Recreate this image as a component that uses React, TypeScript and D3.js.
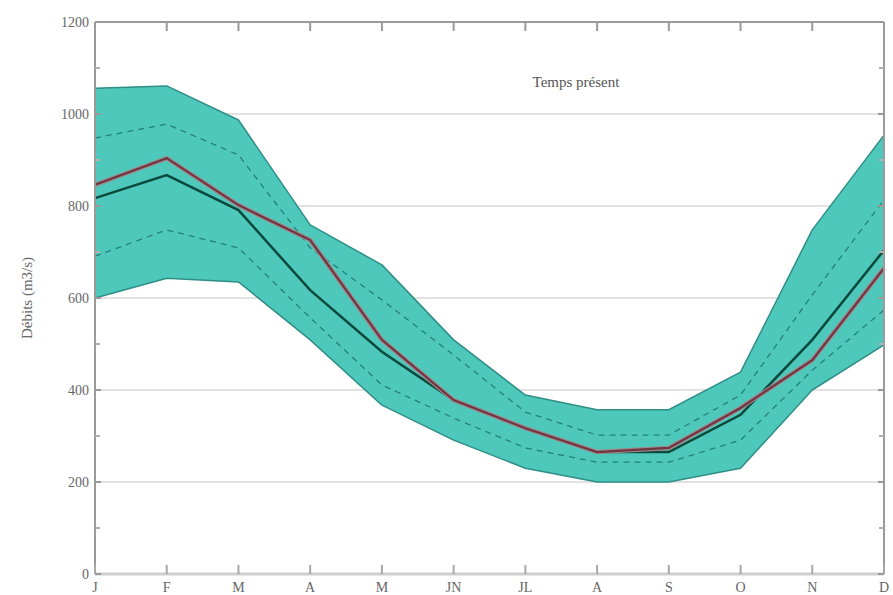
import React from 'react';
import * as d3 from 'd3';

const months = ['J', 'F', 'M', 'A', 'M', 'JN', 'JL', 'A', 'S', 'O', 'N', 'D'];
const bandUpper = [1056, 1061, 987, 759, 672, 509, 389, 357, 357, 439, 748, 954];
const bandLower = [600, 643, 635, 509, 367, 291, 230, 200, 200, 230, 400, 498];
const dashUpper = [948, 978, 911, 709, 596, 476, 352, 302, 302, 389, 607, 813];
const dashLower = [691, 748, 709, 557, 411, 339, 274, 243, 243, 291, 443, 574];
const meanSim = [817, 867, 791, 617, 483, 378, 317, 265, 265, 346, 509, 704];
const observed = [846, 904, 802, 726, 509, 378, 317, 265, 274, 361, 465, 665];
const yTicks = [0, 200, 400, 600, 800, 1000, 1200];
const yMinor = [100, 300, 500, 700, 900, 1100];

const width = 893;
const height = 595;
const margin = { top: 22, right: 9, bottom: 21, left: 95 };

const App: React.FC = () => {
  const x = d3.scaleLinear()
    .domain([0, months.length - 1])
    .range([margin.left, width - margin.right]);
  const y = d3.scaleLinear()
    .domain([0, 1200])
    .range([height - margin.bottom, margin.top]);

  const idx = months.map((_, i) => i);
  const area = d3.area<number>()
    .x(i => x(i))
    .y0(i => y(bandLower[i]))
    .y1(i => y(bandUpper[i]));
  const line = (vals: number[]) => d3.line<number>()
    .x(i => x(i))
    .y(i => y(vals[i]))(idx) as string;

  const left = margin.left;
  const right = width - margin.right;
  const top = margin.top;
  const bottom = height - margin.bottom;

  return (
    <svg width={width} height={height} style={{ position: 'absolute', left: 0, top: 0, background: '#fff' }}>
      {/* grid */}
      {yTicks.filter(t => t > 0 && t < 1200).map(t => (
        <line key={'g' + t} x1={left} x2={right} y1={y(t)} y2={y(t)} stroke="#e2e2e2" strokeWidth={2} />
      ))}

      {/* envelope */}
      <path d={area(idx) as string} fill="#4fc8bc" stroke="#2f8e86" strokeWidth={1.5} strokeLinejoin="round" />
      <path d={line(dashUpper)} fill="none" stroke="#238079" strokeWidth={1.3} strokeDasharray="6,5" />
      <path d={line(dashLower)} fill="none" stroke="#238079" strokeWidth={1.3} strokeDasharray="6,5" />
      <path d={line(meanSim)} fill="none" stroke="#0a4a3c" strokeWidth={2.5} />
      <path d={line(observed)} fill="none" stroke="#a0868b" strokeWidth={4.5} />
      <path d={line(observed)} fill="none" stroke="#6e3641" strokeWidth={2.2} />

      {/* frame */}
      <line x1={left} x2={right} y1={top} y2={top} stroke="#9a9a9a" strokeWidth={2} />
      <line x1={right} x2={right} y1={top} y2={bottom} stroke="#9a9a9a" strokeWidth={2} />
      <line x1={left} x2={left} y1={top} y2={bottom} stroke="#9a9a9a" strokeWidth={2} />
      <line x1={left} x2={right} y1={bottom} y2={bottom} stroke="#cfcfcf" strokeWidth={3} />

      {/* x ticks */}
      {idx.map(i => (
        <g key={'x' + i}>
          <line x1={x(i)} x2={x(i)} y1={bottom} y2={bottom - 9} stroke="#a8a8a8" strokeWidth={2} />
          <line x1={x(i)} x2={x(i)} y1={top} y2={top + 9} stroke="#9a9a9a" strokeWidth={2} />
          <text x={x(i)} y={bottom + 18} textAnchor="middle" fontFamily="Liberation Serif" fontSize={14} fill="#666">
            {months[i]}
          </text>
        </g>
      ))}

      {/* y ticks */}
      {yTicks.map(t => (
        <g key={'y' + t}>
          <line x1={left} x2={left + 6} y1={y(t)} y2={y(t)} stroke="#9a9a9a" strokeWidth={2} />
          <line x1={right} x2={right - 6} y1={y(t)} y2={y(t)} stroke="#9a9a9a" strokeWidth={2} />
          <text x={left - 6} y={y(t) + 5} textAnchor="end" fontFamily="Liberation Serif" fontSize={14} fill="#666">
            {t}
          </text>
        </g>
      ))}
      {yMinor.map(t => (
        <g key={'m' + t}>
          <line x1={left} x2={left + 5} y1={y(t)} y2={y(t)} stroke="#b0b0b0" strokeWidth={2} />
          <line x1={right} x2={right - 5} y1={y(t)} y2={y(t)} stroke="#b0b0b0" strokeWidth={2} />
        </g>
      ))}

      <text transform={`translate(32,${(top + bottom) / 2}) rotate(-90)`} textAnchor="middle"
        fontFamily="Liberation Serif" fontSize={15} fill="#666">
        Débits (m3/s)
      </text>
      <text x={576} y={87} textAnchor="middle" fontFamily="Liberation Serif" fontSize={15} fill="#555">
        Temps présent
      </text>
    </svg>
  );
};

export default App;
